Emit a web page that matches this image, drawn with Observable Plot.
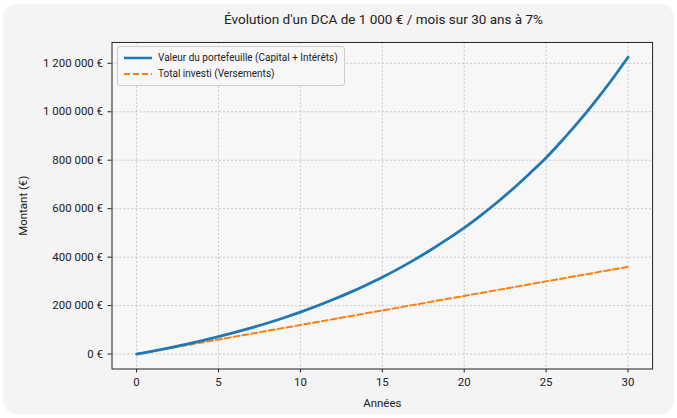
<!DOCTYPE html>
<html><head><meta charset="utf-8">
<script src="https://cdn.jsdelivr.net/npm/d3@7"></script>
<script src="https://cdn.jsdelivr.net/npm/@observablehq/plot@0.6"></script>
<style>
body{margin:0;background:#fff;font-family:Roboto,"Noto Sans",sans-serif;}
#wrap{position:relative;width:671px;height:410px;margin:4px 3px;background:#f4f4f4;border-radius:14px;overflow:hidden;}
#title{position:absolute;top:7px;left:109px;width:543px;text-align:center;font-size:13.5px;color:#222;}
#chart{position:absolute;top:28px;left:-3px;}
#legend{position:absolute;top:42px;left:114px;background:#f7f7f7;border:1px solid #ccc;border-radius:3px;padding:3px 6px;font-size:10px;color:#222;line-height:16px;}
.li{display:flex;align-items:center;gap:6px;}
</style></head><body>
<div id="wrap">
<div id="title">Évolution d'un DCA de 1 000 € / mois sur 30 ans à 7%</div>
<div id="chart"></div>
<div id="legend">
<div class="li"><svg width="28" height="6"><line x1="0" y1="3" x2="28" y2="3" stroke="#1f77b4" stroke-width="2.5"/></svg>Valeur du portefeuille (Capital + Intérêts)</div>
<div class="li"><svg width="28" height="6"><line x1="0" y1="3" x2="28" y2="3" stroke="#ff7f0e" stroke-width="2" stroke-dasharray="6,3"/></svg>Total investi (Versements)</div>
</div>
</div>
<script>
const years = [0,1,2,3,4,5,6,7,8,9,10,11,12,13,14,15,16,17,18,19,20,21,22,23,24,25,26,27,28,29,30];
const portfolio = [0,12400,25700,39900,55200,71600,89200,108100,128300,150000,173100,198100,224900,253600,284400,317000,352600,390700,431500,475300,520900,571400,625400,683400,745500,810000,883000,960000,1043000,1131000,1225000];
const invested = [0,12000,24000,36000,48000,60000,72000,84000,96000,108000,120000,132000,144000,156000,168000,180000,192000,204000,216000,228000,240000,252000,264000,276000,288000,300000,312000,324000,336000,348000,360000];
const xTicks = [0,5,10,15,20,25,30];
const yTicks = [0,200000,400000,600000,800000,1000000,1200000];
const dataP = years.map((y,i)=>({x:y,v:portfolio[i]}));
const dataI = years.map((y,i)=>({x:y,v:invested[i]}));
const fmt = v => d3.format(",")(v).replace(/,/g," ") + " €";
const chart = Plot.plot({
  width:677, height:386,
  marginLeft:112, marginRight:22, marginTop:10, marginBottom:48,
  style:{fontFamily:"Roboto, sans-serif", fontSize:"11.5px", background:"transparent", color:"#222"},
  x:{domain:[-1.5,31.5], ticks:xTicks, label:"Années", labelArrow:"none", labelAnchor:"center", labelOffset:38, tickSize:4},
  y:{domain:[-61600,1286000], ticks:yTicks, tickFormat:fmt, label:"Montant (€)", labelArrow:"none", labelAnchor:"center", labelOffset:94, tickSize:4},
  marks:[
    Plot.frame({fill:"#f7f7f7"}),
    Plot.gridX(xTicks,{stroke:"#bbb", strokeDasharray:"2,2", strokeOpacity:0.8}),
    Plot.gridY(yTicks,{stroke:"#bbb", strokeDasharray:"2,2", strokeOpacity:0.8}),
    Plot.line(dataI,{x:"x",y:"v",stroke:"#ff7f0e",strokeWidth:2,strokeDasharray:"6,3"}),
    Plot.line(dataP,{x:"x",y:"v",stroke:"#1f77b4",strokeWidth:2.8,curve:"monotone-x"}),
    Plot.frame({stroke:"#222"})
  ]
});
document.getElementById("chart").appendChild(chart);
</script>
</body></html>
